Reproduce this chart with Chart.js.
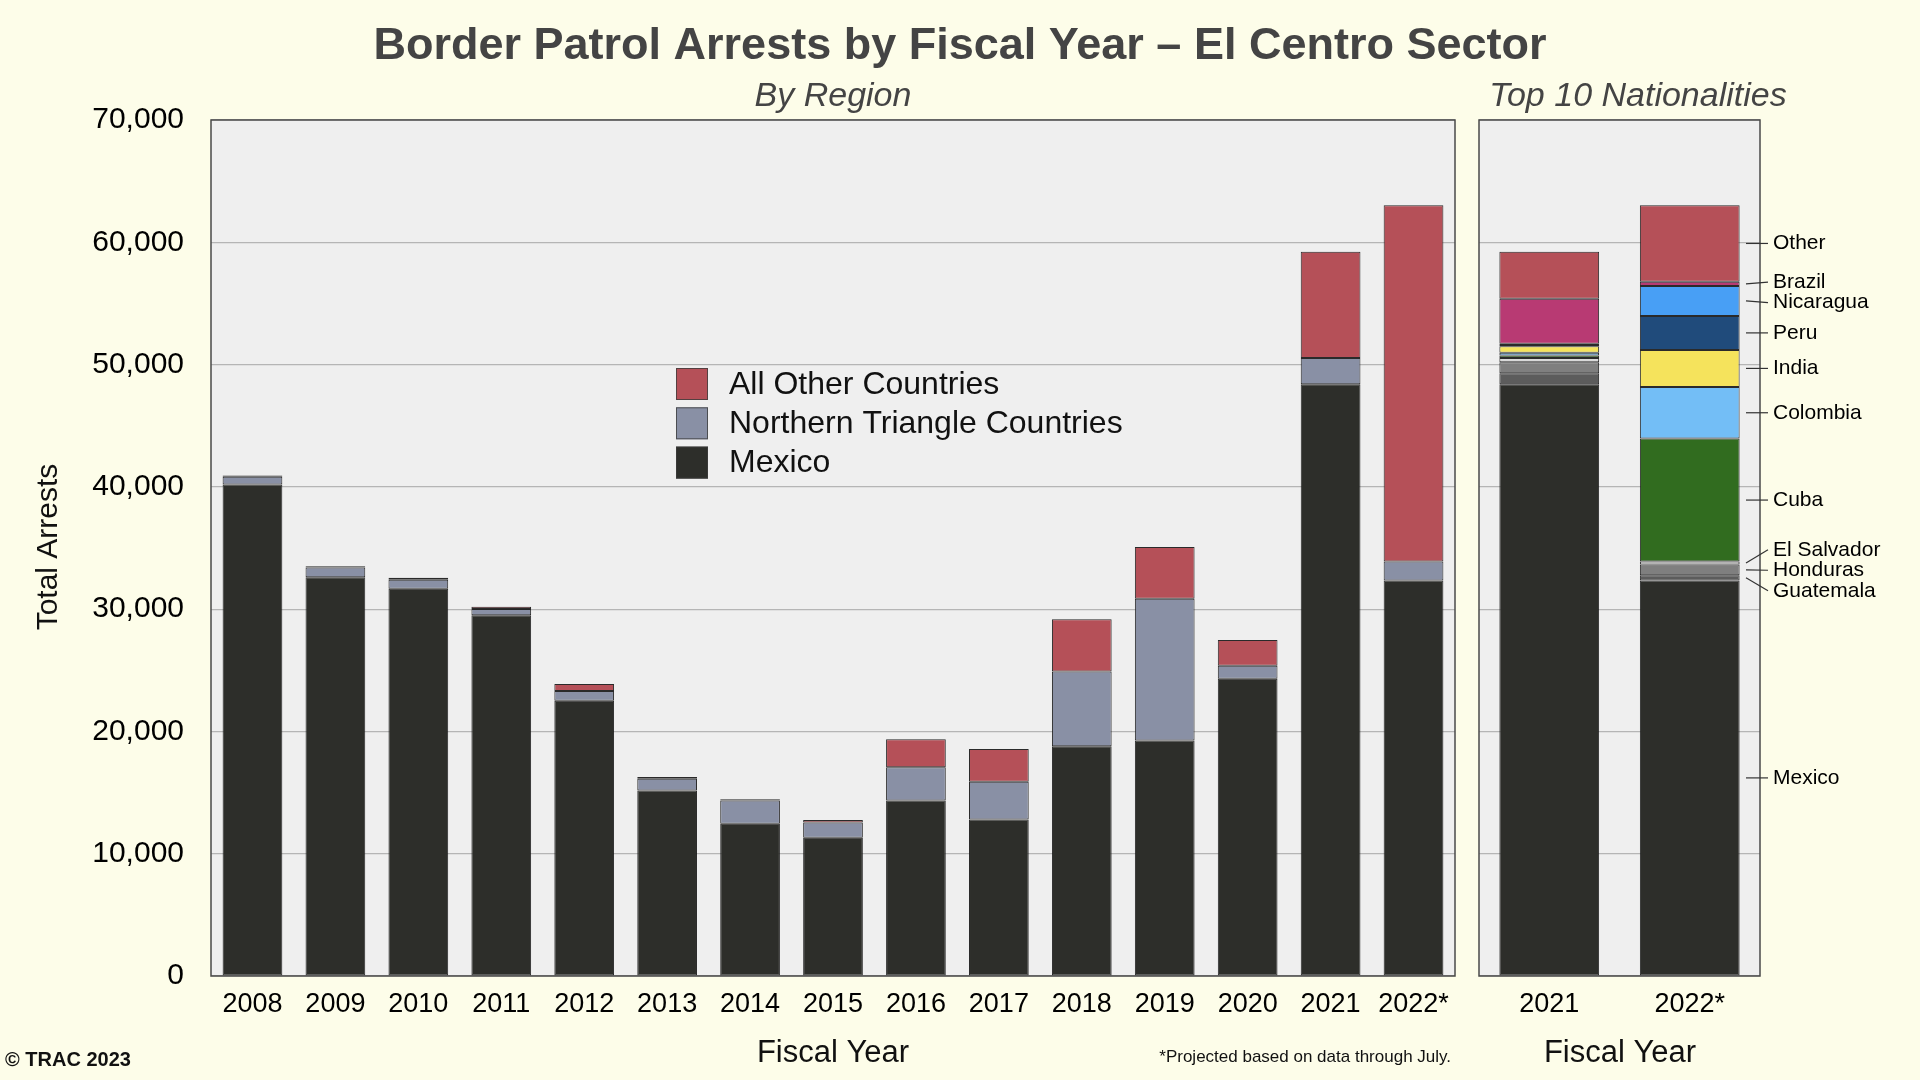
<!DOCTYPE html>
<html>
<head>
<meta charset="utf-8">
<title>Border Patrol Arrests by Fiscal Year – El Centro Sector</title>
<script src="https://cdn.jsdelivr.net/npm/chart.js@4.4.0/dist/chart.umd.min.js"></script>
<style>
    body { margin: 0; background: #fdfde9; width: 1920px; height: 1080px; overflow: hidden; }
    #regionChart { position: absolute; left: 0; top: 0; }
    #natChart { position: absolute; left: 1460px; top: 0; }
</style>
</head>
<body>
<canvas id="regionChart" width="1920" height="1080"></canvas>
<canvas id="natChart" width="460" height="1080"></canvas>
<script>
// By region (left panel)
const years = ['2008', '2009', '2010', '2011', '2012', '2013', '2014', '2015', '2016', '2017', '2018', '2019', '2020', '2021', '2022*'];
const mexico = [40200, 32600, 31670, 29500, 22500, 15160, 12460, 11310, 14350, 12790, 18780, 19260, 24300, 48400, 32350];
const northernTriangle = [630, 800, 740, 520, 800, 980, 1900, 1240, 2720, 3090, 6120, 11590, 1070, 2130, 1540];
const allOther = [90, 100, 150, 170, 580, 140, 90, 200, 2300, 2690, 4280, 4240, 2100, 8690, 29140];

// Top 10 nationalities (right panel)
const natYears = ['2021', '2022*'];
const natMexico = [48400, 32350];
const guatemala = [900, 420];
const honduras = [880, 880];
const elSalvador = [350, 240];
const cuba = [220, 10060];
const colombia = [220, 4220];
const india = [520, 3030];
const peru = [110, 2780];
const nicaragua = [100, 2450];
const brazil = [3680, 350];
const natOther = [3840, 6250];

const yTicks = [0, 10000, 20000, 30000, 40000, 50000, 60000, 70000];

const FONT = '"Liberation Sans", Arial, Helvetica, sans-serif';
const BAR_BORDER = 'rgba(20, 20, 20, 0.9)';

// Plot background and frame
const plotFrame = {
    id: 'plotFrame',
    beforeDraw(chart) {
        const { ctx, chartArea: a } = chart;
        ctx.save();
        ctx.fillStyle = '#efefef';
        ctx.fillRect(a.left, a.top, a.right - a.left, a.bottom - a.top);
        ctx.restore();
    },
    afterDraw(chart) {
        const { ctx, chartArea: a } = chart;
        ctx.save();
        ctx.strokeStyle = '#4a4a4a';
        ctx.lineWidth = 1.5;
        ctx.strokeRect(a.left, a.top, a.right - a.left, a.bottom - a.top);
        ctx.restore();
    }
};

function drawText(ctx, text, x, y, font, color, align) {
    ctx.font = font;
    ctx.fillStyle = color;
    ctx.textAlign = align || 'center';
    ctx.textBaseline = 'middle';
    ctx.fillText(text, x, y);
}

// Titles, legend and notes for the left canvas (which spans the page)
const regionText = {
    id: 'regionText',
    afterDraw(chart) {
        const { ctx, chartArea: a } = chart;
        ctx.save();
        drawText(ctx, 'Border Patrol Arrests by Fiscal Year – El Centro Sector', 960, 47, 'bold 45px ' + FONT, '#444');
        drawText(ctx, 'By Region', (a.left + a.right) / 2, 97, 'italic 34px ' + FONT, '#444');
        drawText(ctx, 'Fiscal Year', (a.left + a.right) / 2, 1053, '31px ' + FONT, '#111');
        drawText(ctx, '*Projected based on data through July.', 1451, 1057, '17px ' + FONT, '#111', 'right');
        drawText(ctx, '© TRAC 2023', 5, 1060, 'bold 20px ' + FONT, '#111', 'left');

        ctx.translate(49, 547);
        ctx.rotate(-Math.PI / 2);
        drawText(ctx, 'Total Arrests', 0, 0, '30px ' + FONT, '#111');
        ctx.restore();

        // Legend, top series first
        ctx.save();
        const items = chart.data.datasets.slice().reverse();
        items.forEach((ds, i) => {
            const cy = 384 + i * 39.3;
            ctx.fillStyle = ds.backgroundColor;
            ctx.fillRect(676, cy - 16, 32, 32);
            ctx.strokeStyle = 'rgba(60,60,60,0.8)';
            ctx.lineWidth = 1;
            ctx.strokeRect(676.5, cy - 15.5, 31, 31);
            drawText(ctx, ds.label, 729, cy + 1, '32px ' + FONT, '#111', 'left');
        });
        ctx.restore();
    }
};

// Side labels for the 2022* column of the nationality panel
const natText = {
    id: 'natText',
    afterDraw(chart) {
        const { ctx, chartArea: a } = chart;
        ctx.save();
        drawText(ctx, 'Top 10 Nationalities', 178, 97, 'italic 34px ' + FONT, '#444');
        drawText(ctx, 'Fiscal Year', 160, 1053, '31px ' + FONT, '#111');

        const col = chart.data.labels.length - 1;
        const items = chart.data.datasets.map((ds, i) => {
            const bar = chart.getDatasetMeta(i).data[col];
            const mid = (bar.y + bar.base) / 2;
            return { label: ds.label, mid: mid, pos: mid };
        }).sort((p, q) => p.mid - q.mid);

        // push overlapping labels apart
        const gap = 20.5;
        for (let k = 0; k < 200; k++) {
            for (let i = 1; i < items.length; i++) {
                const d = items[i].pos - items[i - 1].pos;
                if (d < gap) {
                    const s = (gap - d) / 2;
                    items[i - 1].pos -= s;
                    items[i].pos += s;
                }
            }
        }

        const x0 = a.right - 14;
        const x1 = a.right + 8;
        items.forEach(it => {
            ctx.strokeStyle = '#333';
            ctx.lineWidth = 1.2;
            ctx.beginPath();
            ctx.moveTo(x0, it.mid);
            ctx.lineTo(x1, it.pos);
            ctx.stroke();
            drawText(ctx, it.label, x1 + 5, it.pos, '21px ' + FONT, '#000', 'left');
        });
        ctx.restore();
    }
};

function yScale(width, showTicks) {
    return {
        stacked: true,
        min: 0,
        max: 70000,
        afterBuildTicks: scale => { scale.ticks = yTicks.map(v => ({ value: v })); },
        afterFit: scale => { scale.width = width; },
        grid: { color: '#b5b5b5', lineWidth: 1.2, drawTicks: false },
        border: { display: false },
        ticks: {
            display: showTicks,
            padding: 27,
            color: '#000',
            font: { family: FONT, size: 30 },
            callback: v => v.toLocaleString('en-US')
        }
    };
}

function xScale() {
    return {
        stacked: true,
        afterFit: scale => { scale.height = 104; },
        grid: { display: false, drawTicks: false },
        border: { display: false },
        ticks: { padding: 12, color: '#000', font: { family: FONT, size: 27 }, maxRotation: 0 }
    };
}

function barSet(label, data, color) {
    return {
        label: label,
        data: data,
        backgroundColor: color,
        borderColor: BAR_BORDER,
        borderWidth: 1,
        borderSkipped: false
    };
}

function renderRegionChart() {
    const ctx = document.getElementById('regionChart').getContext('2d');
    new Chart(ctx, {
        type: 'bar',
        data: {
            labels: years,
            datasets: [
                barSet('Mexico', mexico, '#2d2e2a'),
                barSet('Northern Triangle Countries', northernTriangle, '#8990a5'),
                barSet('All Other Countries', allOther, '#b55058')
            ]
        },
        options: {
            responsive: false,
            animation: false,
            barPercentage: 0.72,
            categoryPercentage: 1,
            layout: { padding: { left: 0, right: 465, top: 120, bottom: 0 } },
            plugins: { legend: { display: false }, tooltip: { enabled: false } },
            scales: { x: xScale(), y: yScale(211, true) }
        },
        plugins: [plotFrame, regionText]
    });
}

function renderNatChart() {
    const ctx = document.getElementById('natChart').getContext('2d');
    new Chart(ctx, {
        type: 'bar',
        data: {
            labels: natYears,
            datasets: [
                barSet('Mexico', natMexico, '#2d2e2a'),
                barSet('Guatemala', guatemala, '#5c5c5c'),
                barSet('Honduras', honduras, '#7f7f7f'),
                barSet('El Salvador', elSalvador, '#d9d9d9'),
                barSet('Cuba', cuba, '#316c1f'),
                barSet('Colombia', colombia, '#73bef6'),
                barSet('India', india, '#f5e35c'),
                barSet('Peru', peru, '#204b7b'),
                barSet('Nicaragua', nicaragua, '#489ff5'),
                barSet('Brazil', brazil, '#b83a73'),
                barSet('Other', natOther, '#b55058')
            ]
        },
        options: {
            responsive: false,
            animation: false,
            barPercentage: 0.71,
            categoryPercentage: 1,
            layout: { padding: { left: 0, right: 160, top: 120, bottom: 0 } },
            plugins: { legend: { display: false }, tooltip: { enabled: false } },
            scales: { x: xScale(), y: yScale(19, false) }
        },
        plugins: [plotFrame, natText]
    });
}

document.addEventListener('DOMContentLoaded', () => {
    renderRegionChart();
    renderNatChart();
});
</script>
</body>
</html>
